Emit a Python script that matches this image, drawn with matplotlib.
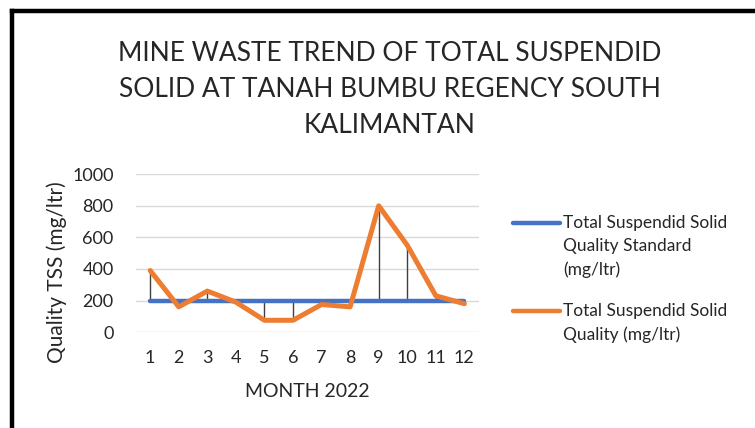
import numpy as np
import matplotlib
matplotlib.use('Agg')
import matplotlib.pyplot as plt
from matplotlib.lines import Line2D

months = [1, 2, 3, 4, 5, 6, 7, 8, 9, 10, 11, 12]
standard = [200, 200, 200, 200, 200, 200, 200, 200, 200, 200, 200, 200]
quality = [390, 160, 260, 190, 75, 75, 175, 160, 800, 550, 230, 180]
yticks = [0, 200, 400, 600, 800, 1000]

title = "MINE WASTE TREND OF TOTAL SUSPENDID\nSOLID AT TANAH BUMBU REGENCY SOUTH\nKALIMANTAN"
std_label = "Total Suspendid Solid\nQuality Standard\n(mg/ltr)"
q_label = "Total Suspendid Solid\nQuality (mg/ltr)"

blue = '#4472C4'
orange = '#ED7D31'
txt = '#262626'

plt.rcParams['font.family'] = ['Lato', 'DejaVu Sans']

W, H = 755, 428
fig = plt.figure(figsize=(W / 100, H / 100), dpi=100)
ax = fig.add_axes([0.180, 0.224, 0.454, 0.369])

x = np.arange(len(months))
# high-low drop lines between the two series
ax.vlines(x, standard, quality, color='#404040', lw=1, zorder=2)
ax.plot(x, standard, color=blue, lw=3.2, zorder=3, solid_capstyle='round')
ax.plot(x, quality, color=orange, lw=3.6, zorder=4, solid_capstyle='round')

ax.set_xlim(-0.5, len(months) - 0.5)
ax.set_ylim(0, 1000)
ax.set_yticks(yticks)
ax.set_xticks(x)
ax.set_xticklabels([str(m) for m in months])
ax.grid(axis='y', color='#D9D9D9', lw=1)
ax.set_axisbelow(True)
for s in ax.spines.values():
    s.set_visible(False)
ax.tick_params(length=0, labelsize=13, colors=txt)
ax.tick_params(axis='x', pad=13)
ax.tick_params(axis='y', pad=16)
ax.set_xlabel("MONTH 2022", fontsize=14, color=txt, labelpad=12)
ax.set_ylabel("Quality TSS (mg/ltr)", fontsize=15, color=txt)
ax.yaxis.set_label_coords(-0.20, 0.38)

fig.text(0.516, 0.905, title, ha='center', va='top', fontsize=19, color=txt, linespacing=1.56)

# legend drawn by hand so the handle sits on the first text line
def legend_entry(y_px, color, label):
    y = 1 - y_px / H
    fig.add_artist(Line2D([513 / W, 560 / W], [y, y], color=color, lw=3.2,
                          solid_capstyle='round', transform=fig.transFigure))
    fig.text(563 / W, y + 8 / H, label, ha='left', va='top', fontsize=12.5,
             color=txt, linespacing=1.55)

legend_entry(223, blue, std_label)
legend_entry(311, orange, q_label)

# black frame on top and left
fig.add_artist(Line2D([12 / W, 1], [1 - 11 / H, 1 - 11 / H], color='black', lw=3.2, transform=fig.transFigure))
fig.add_artist(Line2D([12 / W, 12 / W], [0, 1 - 11 / H], color='black', lw=3.2, transform=fig.transFigure))

fig.savefig('out.png', dpi=100)
